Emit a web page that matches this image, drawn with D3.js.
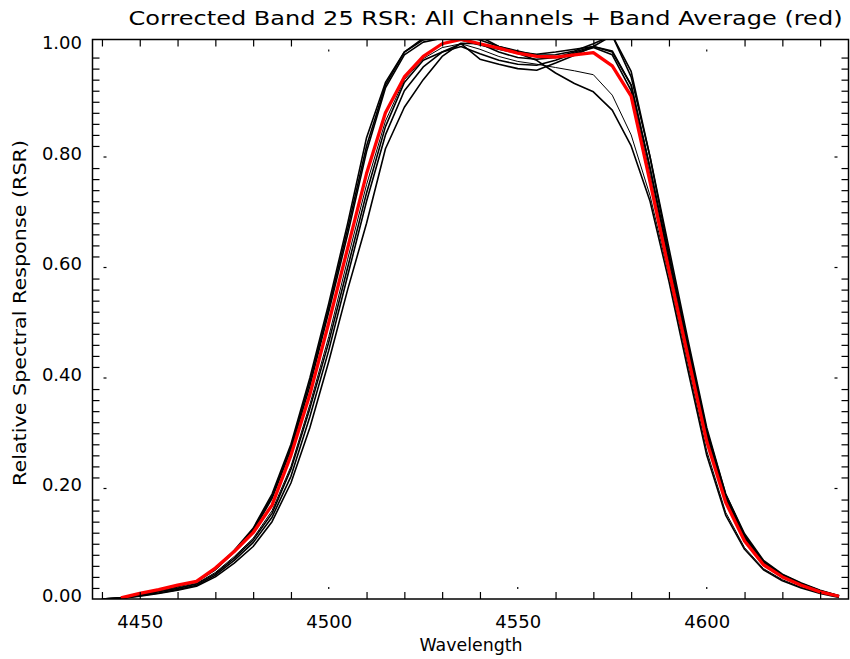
<!DOCTYPE html>
<html>
<head>
<meta charset="utf-8">
<script src="https://cdn.jsdelivr.net/npm/d3@7"></script>
<style>
  html, body { margin: 0; padding: 0; background: #fff; }
  svg { display: block; font-family: "DejaVu Sans", sans-serif; }
</style>
</head>
<body>
<svg id="chart" width="850" height="659"></svg>
<script>
// wavelength grid (nm)
const wavelengths = [
  4440, 4445, 4450, 4455, 4460, 4465, 4470, 4475, 4480, 4485,
  4490, 4495, 4500, 4505, 4510, 4515, 4520, 4525, 4530, 4535,
  4540, 4545, 4550, 4555, 4560, 4565, 4570, 4575, 4580, 4585,
  4590, 4595, 4600, 4605, 4610, 4615, 4620, 4625, 4630, 4635
];

// channel RSR curves (black)
const ch1 = [0, 0.002, 0.009, 0.016, 0.023, 0.032, 0.055, 0.088, 0.128, 0.19,
  0.28, 0.40, 0.535, 0.68, 0.835, 0.935, 0.99, 1.012, 1.02, 1.02,
  1.018, 1.0, 0.99, 0.986, 0.99, 0.995, 1.0, 0.992, 0.93, 0.78,
  0.61, 0.45, 0.295, 0.182, 0.11, 0.065, 0.041, 0.026, 0.014, 0.005];
const ch2 = [0, 0.001, 0.007, 0.013, 0.019, 0.027, 0.046, 0.074, 0.107, 0.155,
  0.235, 0.345, 0.465, 0.60, 0.735, 0.855, 0.935, 0.975, 0.99, 1.005,
  0.977, 0.968, 0.96, 0.957, 0.97, 0.984, 1.0, 1.02, 0.945, 0.80,
  0.635, 0.47, 0.31, 0.19, 0.115, 0.068, 0.044, 0.028, 0.015, 0.006];
const ch3 = [0, 0.002, 0.008, 0.015, 0.022, 0.031, 0.053, 0.085, 0.123, 0.182,
  0.27, 0.385, 0.52, 0.66, 0.81, 0.925, 0.985, 1.008, 1.015, 1.012,
  1.003, 0.995, 0.988, 0.975, 0.952, 0.933, 0.918, 0.885, 0.82, 0.72,
  0.575, 0.415, 0.26, 0.152, 0.09, 0.053, 0.033, 0.02, 0.01, 0.003];
const ch4 = [0, 0.001, 0.007, 0.013, 0.02, 0.028, 0.048, 0.077, 0.11, 0.16,
  0.24, 0.352, 0.475, 0.615, 0.75, 0.865, 0.94, 0.978, 0.998, 1.005,
  0.995, 0.982, 0.973, 0.968, 0.962, 0.956, 0.949, 0.912, 0.84, 0.73,
  0.585, 0.425, 0.268, 0.157, 0.093, 0.055, 0.035, 0.021, 0.011, 0.004];
const ch5 = [0, 0.001, 0.005, 0.01, 0.016, 0.023, 0.04, 0.065, 0.095, 0.14,
  0.21, 0.31, 0.43, 0.56, 0.68, 0.815, 0.89, 0.94, 0.982, 1.006,
  1.005, 0.99, 0.98, 0.977, 0.98, 0.99, 1.0, 0.99, 0.93, 0.78,
  0.62, 0.462, 0.305, 0.19, 0.118, 0.07, 0.045, 0.029, 0.016, 0.006];
const ch6 = [0, 0.001, 0.006, 0.011, 0.017, 0.025, 0.043, 0.07, 0.102, 0.148,
  0.222, 0.33, 0.45, 0.585, 0.72, 0.84, 0.92, 0.963, 0.99, 1.0,
  0.987, 0.975, 0.968, 0.966, 0.975, 0.988, 0.998, 0.985, 0.92, 0.765,
  0.60, 0.445, 0.29, 0.178, 0.108, 0.064, 0.041, 0.026, 0.014, 0.005];
const ch7 = [0, 0.002, 0.009, 0.016, 0.023, 0.032, 0.054, 0.086, 0.126, 0.186,
  0.275, 0.393, 0.527, 0.67, 0.82, 0.93, 0.99, 1.015, 1.02, 1.02,
  1.012, 1.0, 0.992, 0.984, 0.985, 0.992, 1.005, 1.02, 0.955, 0.80,
  0.625, 0.46, 0.30, 0.186, 0.113, 0.067, 0.043, 0.027, 0.015, 0.005];

// band average (red); not defined at the first grid point
const bandAverage = [null, 0.002, 0.01, 0.017, 0.025, 0.032, 0.056, 0.086, 0.12, 0.17,
  0.26, 0.37, 0.50, 0.635, 0.77, 0.88, 0.945, 0.982, 1.005, 1.013,
  1.005, 0.997, 0.988, 0.982, 0.981, 0.985, 0.989, 0.965, 0.91, 0.755,
  0.595, 0.44, 0.285, 0.175, 0.105, 0.062, 0.04, 0.025, 0.013, 0.005];

const channels = [
  { name: "ch1", values: ch1, width: 1.6 },
  { name: "ch2", values: ch2, width: 1.6 },
  { name: "ch3", values: ch3, width: 1.6 },
  { name: "ch4", values: ch4, width: 1.0 },
  { name: "ch5", values: ch5, width: 1.6 },
  { name: "ch6", values: ch6, width: 1.6 },
  { name: "ch7", values: ch7, width: 1.6 }
];

// tick labels
const xTickValues = [4450, 4500, 4550, 4600];
const yTickValues = [0, 0.2, 0.4, 0.6, 0.8, 1.0];

const titleText = "Corrected Band 25 RSR: All Channels + Band Average (red)";
const xLabel = "Wavelength";
const yLabel = "Relative Spectral Response (RSR)";

const box = { left: 92.5, right: 848.5, top: 39.5, bottom: 599 };

const svg = d3.select("#chart");
const x = d3.scaleLinear().domain([4437.5, 4637.5]).range([box.left, box.right]);
const y = d3.scaleLinear().domain([0, 1.0127]).range([box.bottom, box.top]);

/**
 * minor ticks on all four sides, majors as short marks off the axis
 */
function drawAxes() {
  const xMinor = d3.range(4440, 4640, 10).filter((v) => v % 50 !== 0 || v === 4450);
  const yMinor = d3.range(0, 51).map((i) => i / 50).filter((v, i) => i % 10 !== 0);

  const minor = 7;
  const axes = [
    { axis: d3.axisBottom(x).tickValues(xMinor), tr: `translate(0,${box.bottom})` },
    { axis: d3.axisTop(x).tickValues(xMinor), tr: `translate(0,${box.top})` },
    { axis: d3.axisLeft(y).tickValues(yMinor), tr: `translate(${box.left},0)` },
    { axis: d3.axisRight(y).tickValues(yMinor), tr: `translate(${box.right},0)` }
  ];
  axes.forEach((a) => {
    const g = svg.append("g").attr("transform", a.tr)
      .call(a.axis.tickSize(-minor).tickSizeOuter(0).tickFormat(""));
    g.select(".domain").remove();
    g.selectAll("line").attr("stroke", "#000").attr("stroke-width", 1.2);
  });

  // major ticks: small marks a bit inside the frame
  const majorsX = xTickValues.filter((v) => v !== 4450);
  const gm = svg.append("g").attr("stroke", "#000").attr("stroke-width", 1.2);
  majorsX.forEach((v) => {
    gm.append("line").attr("x1", x(v)).attr("x2", x(v))
      .attr("y1", box.bottom - 10).attr("y2", box.bottom - 12);
    gm.append("line").attr("x1", x(v)).attr("x2", x(v))
      .attr("y1", box.top + 10).attr("y2", box.top + 12);
  });
  yTickValues.slice(1, -1).forEach((v) => {
    gm.append("line").attr("y1", y(v)).attr("y2", y(v))
      .attr("x1", box.left + 11).attr("x2", box.left + 14);
    gm.append("line").attr("y1", y(v)).attr("y2", y(v))
      .attr("x1", box.right - 11).attr("x2", box.right - 14);
  });

  // tick labels
  const gx = svg.append("g").attr("transform", `translate(0,${box.bottom})`)
    .call(d3.axisBottom(x).tickValues(xTickValues).tickSize(0).tickPadding(16)
      .tickFormat(d3.format("d")));
  gx.select(".domain").remove();
  gx.selectAll("text").attr("font-size", 18).attr("font-family", "DejaVu Sans")
    .attr("fill", "#000");

  const gy = svg.append("g").attr("transform", `translate(${box.left},-3.5)`)
    .call(d3.axisLeft(y).tickValues(yTickValues).tickSize(0).tickPadding(10.5)
      .tickFormat(d3.format(".2f")));
  gy.select(".domain").remove();
  gy.selectAll("text").attr("font-size", 18).attr("font-family", "DejaVu Sans")
    .attr("fill", "#000");
}

/**
 * channel curves + band average
 */
function drawCurves() {
  svg.append("clipPath").attr("id", "plotClip")
    .append("rect")
    .attr("x", box.left).attr("y", box.top)
    .attr("width", box.right - box.left).attr("height", box.bottom - box.top);

  const line = d3.line()
    .defined((d) => d[1] !== null)
    .x((d) => x(d[0]))
    .y((d) => y(d[1]));

  const gLines = svg.append("g").attr("clip-path", "url(#plotClip)");

  gLines.selectAll("path.channel")
    .data(channels)
    .join("path")
    .attr("class", "channel")
    .attr("d", (c) => line(wavelengths.map((w, i) => [w, c.values[i]])))
    .attr("fill", "none")
    .attr("stroke", "#000")
    .attr("stroke-width", (c) => c.width)
    .attr("stroke-linejoin", "round");

  gLines.append("path")
    .attr("d", line(wavelengths.map((w, i) => [w, bandAverage[i]])))
    .attr("fill", "none")
    .attr("stroke", "#ff0000")
    .attr("stroke-width", 3.3)
    .attr("stroke-linejoin", "round");
}

/**
 * frame and titles
 */
function drawFrame() {
  svg.append("rect")
    .attr("x", box.left).attr("y", box.top)
    .attr("width", box.right - box.left).attr("height", box.bottom - box.top)
    .attr("fill", "none").attr("stroke", "#000").attr("stroke-width", 1.5);

  svg.append("text")
    .attr("x", 485.5).attr("y", 25)
    .attr("text-anchor", "middle")
    .attr("font-size", 19)
    .attr("textLength", 714)
    .attr("lengthAdjust", "spacingAndGlyphs")
    .text(titleText);

  svg.append("text")
    .attr("x", 471).attr("y", 651)
    .attr("text-anchor", "middle")
    .attr("font-size", 17)
    .attr("textLength", 103)
    .attr("lengthAdjust", "spacingAndGlyphs")
    .text(xLabel);

  svg.append("text")
    .attr("transform", "translate(26,313) rotate(-90)")
    .attr("text-anchor", "middle")
    .attr("font-size", 17)
    .attr("textLength", 346)
    .attr("lengthAdjust", "spacingAndGlyphs")
    .text(yLabel);
}

drawCurves();
drawAxes();
drawFrame();
</script>
</body>
</html>
